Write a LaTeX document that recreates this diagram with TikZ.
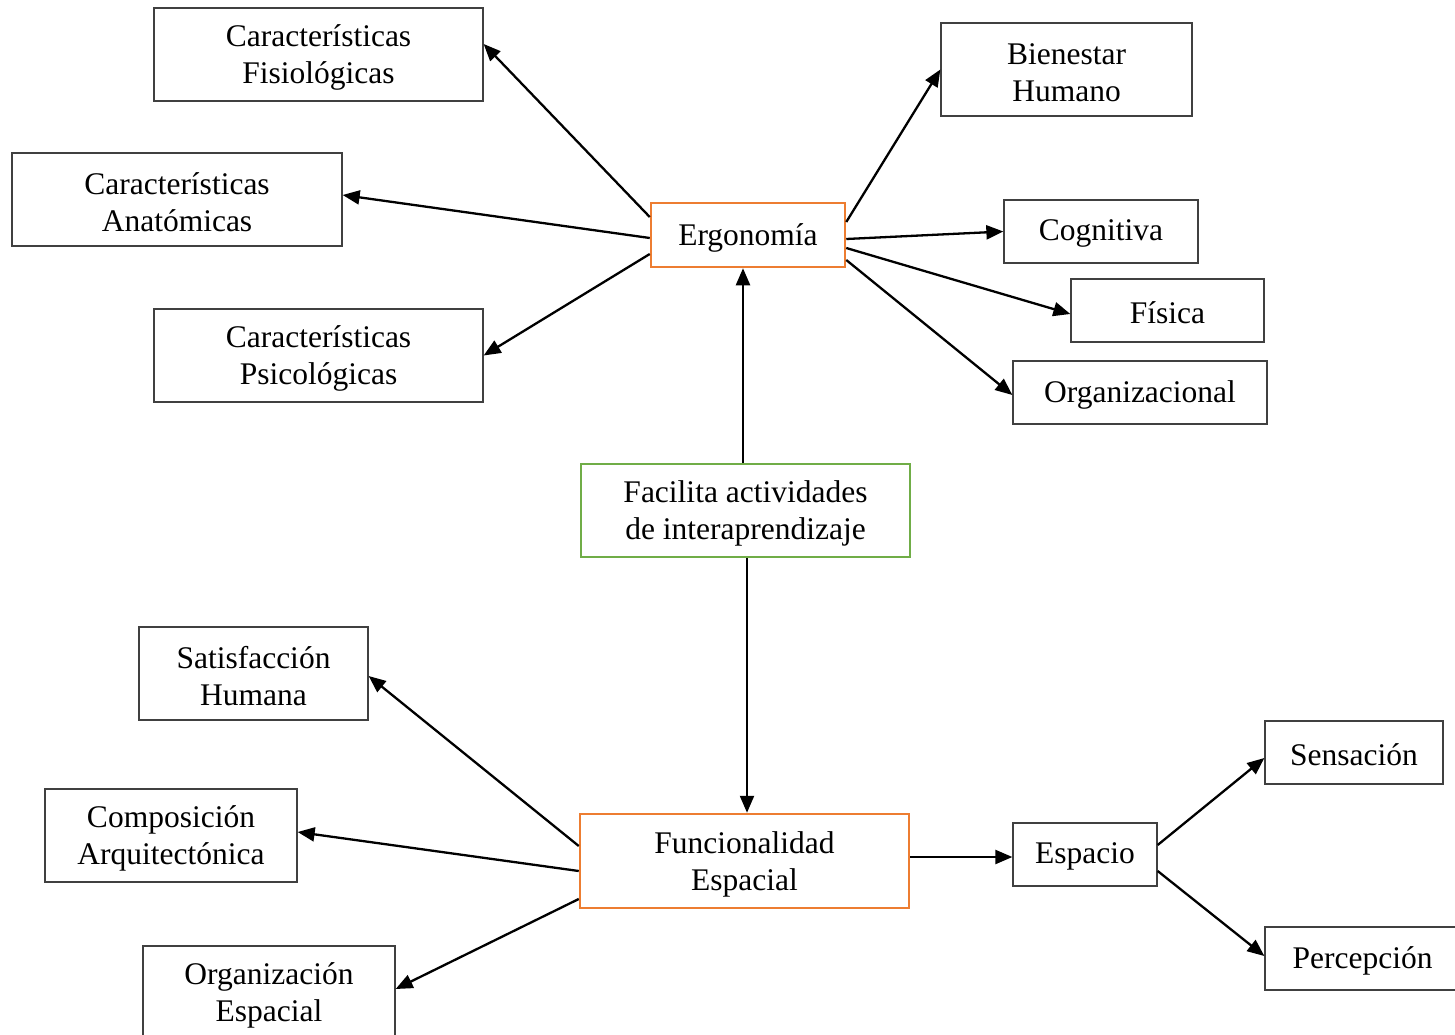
\documentclass[tikz,border=0pt]{standalone}
\usepackage{fontspec}
\setmainfont{Liberation Serif}
\usetikzlibrary{arrows.meta,calc}
\definecolor{boxgray}{HTML}{404040}
\definecolor{orangeb}{HTML}{ED7D31}
\definecolor{greenb}{HTML}{70AD47}
\begin{document}
\begin{tikzpicture}[x=1pt,y=-1pt,
  box/.style={draw=boxgray,line width=1.3pt,inner sep=0pt},
  obox/.style={box,draw=orangeb,line width=2.5pt},
  gbox/.style={box,draw=greenb,line width=2.5pt},
  txt/.style={inner sep=0pt,align=center,font=\fontsize{31.5}{37}\selectfont},
  arr/.style={line width=2.3pt,-{Triangle[length=17pt,width=14pt]}}]
\useasboundingbox (0,0) rectangle (1455,1035);
\fill[white] (0,0) rectangle (1455,1035);
% boxes
\node[box,minimum width=329pt,minimum height=93pt] (fis) at (318.5,54.5) {};
\node[box,minimum width=330pt,minimum height=93pt] (ana) at (177,199.5) {};
\node[box,minimum width=329pt,minimum height=93pt] (psi) at (318.5,355.5) {};
\node[obox,minimum width=194pt,minimum height=64pt] (ergo) at (748,235) {};
\node[box,minimum width=251pt,minimum height=93pt] (bien) at (1066.5,69.5) {};
\node[box,minimum width=194pt,minimum height=63pt] (cog) at (1101,231.5) {};
\node[box,minimum width=193pt,minimum height=63pt] (fisi) at (1167.5,310.5) {};
\node[box,minimum width=254pt,minimum height=63pt] (orgz) at (1140,392.5) {};
\node[gbox,minimum width=329pt,minimum height=93pt] (fac) at (745.5,510.5) {};
\node[box,minimum width=229pt,minimum height=93pt] (sat) at (253.5,673.5) {};
\node[box,minimum width=252pt,minimum height=93pt] (comp) at (171,835.5) {};
\node[box,minimum width=252pt,minimum height=93pt] (orge) at (269,992.5) {};
\node[obox,minimum width=329pt,minimum height=94pt] (fun) at (744.5,861) {};
\node[box,minimum width=144pt,minimum height=63pt] (esp) at (1085,854.5) {};
\node[box,minimum width=178pt,minimum height=63pt] (sen) at (1354,752.5) {};
\node[box,minimum width=195pt,minimum height=63pt] (per) at (1362.5,958.5) {};
% texts
\node[txt] (fis-t) at ([yshift=-3pt]fis.center) {Características\\Fisiológicas};
\node[txt] (ana-t) at ([yshift=-3pt]ana.center) {Características\\Anatómicas};
\node[txt] (psi-t) at ([yshift=-3pt]psi.center) {Características\\Psicológicas};
\node[txt] (ergo-t) at ([yshift=-3pt]ergo.center) {Ergonomía};
\node[txt] (bien-t) at ([yshift=-3pt]bien.center) {Bienestar\\Humano};
\node[txt] (cog-t) at ([yshift=-2pt]cog.center) {Cognitiva};
\node[txt] (fisi-t) at ([yshift=-2pt]fisi.center) {Física};
\node[txt] (orgz-t) at ([yshift=-2pt]orgz.center) {Organizacional};
\node[txt] (fac-t) at ([yshift=-3pt]fac.center) {Facilita actividades\\de interaprendizaje};
\node[txt] (sat-t) at ([yshift=-3pt]sat.center) {Satisfacción\\Humana};
\node[txt] (comp-t) at ([yshift=-3pt]comp.center) {Composición\\Arquitectónica};
\node[txt] (orge-t) at ([yshift=-3pt]orge.center) {Organización\\Espacial};
\node[txt] (fun-t) at ([yshift=-3pt]fun.center) {Funcionalidad\\Espacial};
\node[txt] (esp-t) at ([yshift=-2pt]esp.center) {Espacio};
\node[txt] (sen-t) at ([yshift=-2pt]sen.center) {Sensación};
\node[txt] (per-t) at ([yshift=-2pt]per.center) {Percepción};
% connectors
\draw[arr] ([yshift=18pt]ergo.west) -- ([yshift=10.5pt]fis.east);
\draw[arr] ([yshift=-3pt]ergo.west) -- ([yshift=4.5pt]ana.east);
\draw[arr] ([yshift=-19pt]ergo.west) -- (psi.east);
\draw[arr] ([yshift=13pt]ergo.east) -- (bien.west);
\draw[arr] ([yshift=-4pt]ergo.east) -- (cog.west);
\draw[arr] ([yshift=-13pt]ergo.east) -- ([yshift=-3.5pt]fisi.west);
\draw[arr] ([yshift=-25pt]ergo.east) -- ([yshift=-2.5pt]orgz.west);
\draw[arr] ([xshift=-2.5pt]fac.north) -- ([xshift=-5pt]ergo.south);
\draw[arr] ([xshift=1.5pt]fac.south) -- ([xshift=2.5pt]fun.north);
\draw[arr] ([yshift=15pt]fun.west) -- ([yshift=-2.5pt]sat.east);
\draw[arr] ([yshift=-10pt]fun.west) -- ([yshift=3.5pt]comp.east);
\draw[arr] ([yshift=-38pt]fun.west) -- ([yshift=3.5pt]orge.east);
\draw[arr] ([yshift=4pt]fun.east) -- ([yshift=-2.5pt]esp.west);
\draw[arr] ([yshift=9.5pt]esp.east) -- ([yshift=-5.5pt]sen.west);
\draw[arr] ([yshift=-16.5pt]esp.east) -- ([yshift=2.5pt]per.west);
\end{tikzpicture}
\end{document}
